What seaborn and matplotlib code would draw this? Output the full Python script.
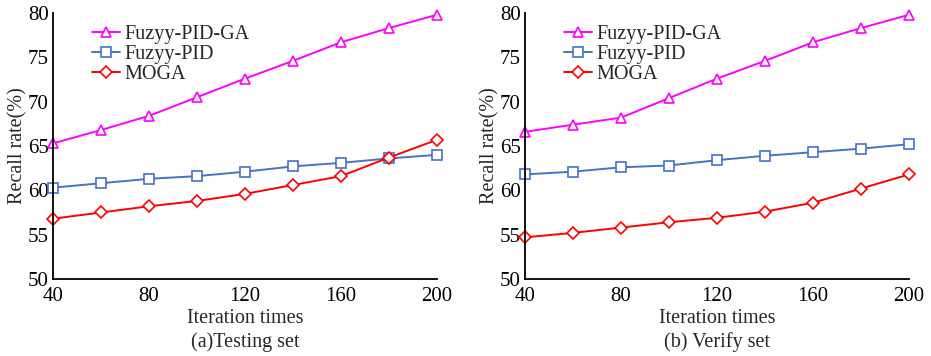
import matplotlib
matplotlib.use("Agg")
import matplotlib.pyplot as plt
import pandas as pd
import seaborn as sns

ITERATIONS = [40, 60, 80, 100, 120, 140, 160, 180, 200]
METHODS = ["Fuzyy-PID-GA", "Fuzyy-PID", "MOGA"]

# (a) Testing set
TEST_GA = [65.3, 66.8, 68.4, 70.5, 72.6, 74.6, 76.7, 78.3, 79.8]
TEST_PID = [60.3, 60.8, 61.3, 61.6, 62.1, 62.7, 63.1, 63.6, 64.0]
TEST_MOGA = [56.8, 57.5, 58.2, 58.8, 59.6, 60.6, 61.6, 63.7, 65.7]

# (b) Verify set
VERIFY_GA = [66.6, 67.4, 68.2, 70.4, 72.6, 74.6, 76.7, 78.3, 79.8]
VERIFY_PID = [61.8, 62.1, 62.6, 62.8, 63.4, 63.9, 64.3, 64.7, 65.2]
VERIFY_MOGA = [54.7, 55.2, 55.8, 56.4, 56.9, 57.6, 58.6, 60.2, 61.8]

X_TICKS = [40, 80, 120, 160, 200]
Y_TICKS = [50, 55, 60, 65, 70, 75, 80]

COLORS = {"Fuzyy-PID-GA": "#FF00FF", "Fuzyy-PID": "#4472C4", "MOGA": "#FF0000"}
MARKERS = {"Fuzyy-PID-GA": "^", "Fuzyy-PID": "s", "MOGA": "D"}
SIZES = {"Fuzyy-PID-GA": 7.5, "Fuzyy-PID": 7.5, "MOGA": 6}


def to_long(series):
    rows = []
    for name, values in zip(METHODS, series):
        for x, y in zip(ITERATIONS, values):
            rows.append({"Iteration": x, "Recall": y, "Method": name})
    return pd.DataFrame(rows)


def draw_panel(fig, ax, df, caption):
    for name in METHODS:
        sns.lineplot(
            data=df[df["Method"] == name],
            x="Iteration",
            y="Recall",
            ax=ax,
            color=COLORS[name],
            marker=MARKERS[name],
            markersize=SIZES[name],
            markerfacecolor="white",
            markeredgecolor=COLORS[name],
            markeredgewidth=1.2,
            linewidth=1.4,
            label=name,
            clip_on=False,
        )
    ax.set_xlim(40, 200)
    ax.set_ylim(50, 80)
    ax.set_xticks(X_TICKS)
    ax.set_yticks(Y_TICKS)
    ax.tick_params(direction="in", length=5, width=1.2, labelsize=15, colors="black")
    ax.tick_params(axis="x", pad=6)
    ax.tick_params(axis="y", pad=3)
    for side in ["top", "right"]:
        ax.spines[side].set_visible(False)
    for side in ["left", "bottom"]:
        ax.spines[side].set_color("black")
        ax.spines[side].set_linewidth(1.3)
    ax.set_xlabel("Iteration times", fontsize=14.5, labelpad=2)
    ax.set_ylabel("Recall rate(%)", fontsize=14.5, labelpad=0)
    box = ax.get_position()
    fig.text((box.x0 + box.x1) / 2, 0.04, caption, ha="center", va="center", fontsize=14.5)
    ax.grid(False)
    ax.legend(
        loc="upper left",
        bbox_to_anchor=(0.07, 1.0),
        frameon=False,
        fontsize=14.5,
        handlelength=1.4,
        handletextpad=0.2,
        labelspacing=0.05,
        borderaxespad=0.2,
    )


def main():
    sns.set_theme(style="white")
    plt.rcParams["font.family"] = ["Liberation Serif", "DejaVu Serif"]

    fig = plt.figure(figsize=(9.31, 3.56), dpi=100)
    ax1 = fig.add_axes([0.0569, 0.2163, 0.4125, 0.7472])
    ax2 = fig.add_axes([0.5639, 0.2163, 0.4125, 0.7472])

    draw_panel(fig, ax1, to_long([TEST_GA, TEST_PID, TEST_MOGA]), "(a)Testing set")
    draw_panel(fig, ax2, to_long([VERIFY_GA, VERIFY_PID, VERIFY_MOGA]), "(b) Verify set")

    fig.savefig("out.png", dpi=100)
    plt.close(fig)


if __name__ == "__main__":
    main()
